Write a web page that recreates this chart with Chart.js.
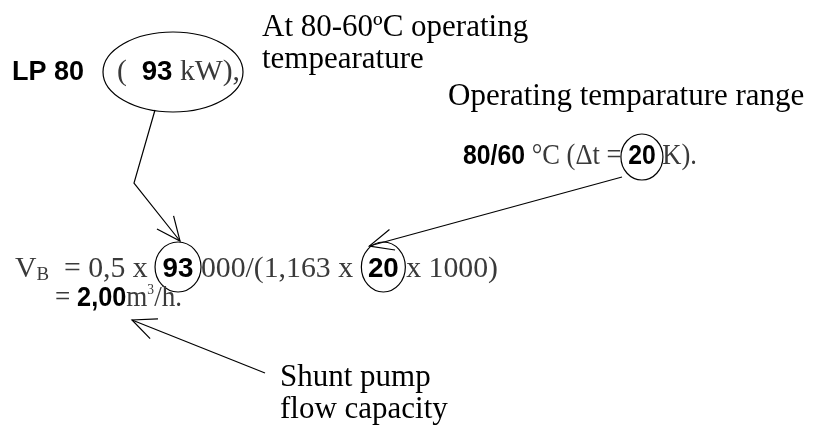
<!DOCTYPE html>
<html><head><meta charset="utf-8">
<script src="https://cdn.jsdelivr.net/npm/chart.js@4/dist/chart.umd.min.js"></script>
<style>html,body{margin:0;padding:0;background:#fff}#wrap{width:815px;height:428px}</style>
</head><body><div id="wrap"><canvas id="c"></canvas></div>
<script>
// ---- values ----
const pumpModel = ["LP 80"];
const powerKW = [93];
const supplyTemp = [80];
const returnTemp = [60];
const deltaT = [20];
const factor = ["0,5"];
const waterConst = ["1,163"];
const flowM3h = ["2,00"];
const notes = ["At 80-60ºC operating", "tempearature", "Operating temparature range", "Shunt pump", "flow capacity"];

const SERIF = '"Liberation Serif","Times New Roman",serif';
const SANS = '"Liberation Sans",Arial,sans-serif';
const GREY = '#3a3a3a';

// draw a run of text segments between x0 and x1 (uniformly squeezed horizontally to fit)
function fit(ctx, x0, x1, y, segs) {
  let total = 0;
  segs.forEach(s => { ctx.font = s.font; s.w = ctx.measureText(s.t).width; total += s.w; });
  const k = (x1 - x0) / total;
  let px = x0;
  const marks = [];
  segs.forEach(s => {
    ctx.save();
    ctx.font = s.font; ctx.fillStyle = s.color || '#000';
    ctx.translate(px, y + (s.dy || 0)); ctx.scale(k, 1);
    ctx.fillText(s.t, 0, 0);
    ctx.restore();
    if (s.mark) marks.push((px + px + s.w * k) / 2);
    px += s.w * k;
  });
  return marks;
}
function ellipse(ctx, cx, cy, rx, ry) {
  ctx.beginPath(); ctx.ellipse(cx, cy, rx, ry, 0, 0, Math.PI * 2); ctx.stroke();
}
function arrow(ctx, pts) {
  ctx.beginPath(); ctx.moveTo(pts[0][0], pts[0][1]);
  for (let i = 1; i < pts.length; i++) ctx.lineTo(pts[i][0], pts[i][1]);
  ctx.stroke();
  const [a, b] = [pts[pts.length - 2], pts[pts.length - 1]];
  const ang = Math.atan2(b[1] - a[1], b[0] - a[0]);
  const L = 26, s = 0.42;
  ctx.beginPath();
  ctx.moveTo(b[0] - L * Math.cos(ang - s), b[1] - L * Math.sin(ang - s));
  ctx.lineTo(b[0], b[1]);
  ctx.lineTo(b[0] - L * Math.cos(ang + s), b[1] - L * Math.sin(ang + s));
  ctx.stroke();
}

const diagram = {
  id: 'diagram',
  afterDraw(chart) {
    const ctx = chart.ctx, X = chart.scales.x, Y = chart.scales.y;
    const sx = v => X.getPixelForValue(v), sy = v => Y.getPixelForValue(v);
    ctx.save();
    ctx.textBaseline = 'alphabetic';
    ctx.strokeStyle = '#000'; ctx.lineWidth = 1.2;
    const T31 = '31px ' + SERIF, T30 = '30px ' + SERIF, B28 = 'bold 28px ' + SANS;
    const g = t => ({t, font: T30, color: GREY});
    const b = (t, mark) => ({t, font: B28, mark});

    // top-left: LP 80 ( 93 kW),
    fit(ctx, sx(12), sx(84), sy(80), [{t: pumpModel[0], font: 'bold 27px ' + SANS}]);
    fit(ctx, sx(117), sx(240), sy(80), [g('(  '), b(String(powerKW[0])), g(' kW),')]);
    ellipse(ctx, sx(173), sy(72), 70, 40);

    // annotations
    ctx.fillStyle = '#000'; ctx.font = T31;
    ctx.fillText(notes[0], sx(262), sy(36));
    ctx.fillText(notes[1], sx(262), sy(68));
    ctx.fillText(notes[2], sx(448), sy(105));
    ctx.fillText(notes[3], sx(280), sy(386));
    ctx.fillText(notes[4], sx(280), sy(418));

    // 80/60 °C (Δt = 20 K).
    const m1 = fit(ctx, sx(463), sx(697), sy(164), [
      b(supplyTemp[0] + '/' + returnTemp[0]), g(' °C (Δt = '), b(String(deltaT[0]), true), g(' K).')]);
    ellipse(ctx, m1[0], sy(157), 21, 23);

    // formula line 1
    const yL1 = sy(277);
    const m2 = fit(ctx, sx(15), sx(498), yL1, [
      g('V'), {t: 'B', font: '19px ' + SERIF, color: GREY, dy: 3},
      g('  = ' + factor[0] + ' x  '), b(String(powerKW[0]), true),
      g(' 000/(' + waterConst[0] + ' x  '), b(String(deltaT[0]), true), g(' x 1000)')]);
    ellipse(ctx, m2[0], sy(267), 23, 25);
    ellipse(ctx, m2[1], sy(267), 22, 25);
    // line 2
    fit(ctx, sx(55), sx(182), sy(306), [g('= '), b(flowM3h[0]), g('m'),
      {t: '3', font: '15px ' + SERIF, color: GREY, dy: -12}, g('/h.')]);

    // arrows
    arrow(ctx, [[sx(155), sy(110)], [sx(134), sy(183)], [m2[0] + 2, sy(241)]]);
    arrow(ctx, [[sx(622), sy(177)], [m2[1] - 14, sy(246)]]);
    arrow(ctx, [[sx(265), sy(373)], [sx(132), sy(320)]]);
    ctx.restore();
  }
};

new Chart(document.getElementById('c'), {
  type: 'scatter',
  data: {datasets: [{data: [], pointRadius: 0}]},
  options: {
    responsive: true, maintainAspectRatio: false, animation: false,
    layout: {padding: 0},
    plugins: {legend: {display: false}, tooltip: {enabled: false}},
    scales: {
      x: {type: 'linear', min: 0, max: 815, display: false},
      y: {type: 'linear', min: 0, max: 428, reverse: true, display: false}
    }
  },
  plugins: [diagram]
});
</script></body></html>
